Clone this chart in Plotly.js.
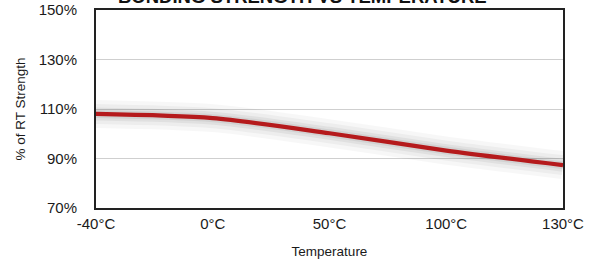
<!DOCTYPE html>
<html>
<head>
<meta charset="utf-8">
<script src="https://cdn.plot.ly/plotly-3.0.1.min.js"></script>
<style>html,body{margin:0;padding:0;background:#fff;}#chart{width:595px;height:262px;}</style>
</head>
<body>
<div id="chart"></div>
<script>
var temperatures = ['-40°C', '0°C', '50°C', '100°C', '130°C'];
var strengthPct = [108, 106.3, 100.2, 93.2, 87.3];
var yTickValues = [70, 90, 110, 130, 150];
var yTickLabels = ['70%', '90%', '110%', '130%', '150%'];
var chartTitle = 'BONDING STRENGTH VS TEMPERATURE';

var shadowStyles = [
  {w: 28, c: 'rgba(0,0,0,0.03)'},
  {w: 20, c: 'rgba(0,0,0,0.04)'},
  {w: 13, c: 'rgba(0,0,0,0.05)'},
  {w: 8, c: 'rgba(0,0,0,0.06)'}
];
var traces = shadowStyles.map(function (s) {
  return {
    x: temperatures, y: strengthPct, type: 'scatter', mode: 'lines',
    line: {color: s.c, width: s.w, shape: 'spline', smoothing: 0.8},
    hoverinfo: 'skip', showlegend: false
  };
});
traces.push({
  x: temperatures, y: strengthPct, type: 'scatter', mode: 'lines',
  line: {color: '#B51A1C', width: 4.2, shape: 'spline', smoothing: 0.8},
  showlegend: false
});

var font = 'Liberation Sans, Arial, Helvetica, sans-serif';
var layout = {
  width: 595, height: 262,
  margin: {l: 96, r: 32, t: 10, b: 54},
  paper_bgcolor: '#fff', plot_bgcolor: '#fff',
  font: {family: font, color: '#1a1a1a', size: 15},
  annotations: [{
    text: chartTitle, showarrow: false,
    xref: 'paper', yref: 'paper', x: 0.443, xanchor: 'center',
    y: 1.0687, yanchor: 'middle',
    font: {family: font, size: 18.5, color: '#111', weight: 'bold'}
  }],
  xaxis: {
    type: 'category', range: [0, 4],
    showgrid: false, zeroline: false,
    showline: true, linecolor: '#222', linewidth: 2, mirror: true,
    ticks: 'outside', ticklen: 1, tickcolor: 'rgba(0,0,0,0)',
    tickfont: {size: 15, family: font, color: '#1a1a1a'},
    title: {text: 'Temperature', font: {size: 13.5, family: font, color: '#1a1a1a'}, standoff: 16}
  },
  yaxis: {
    range: [70, 150],
    tickvals: yTickValues, ticktext: yTickLabels,
    showgrid: true, gridcolor: '#cfcfcf', gridwidth: 1,
    zeroline: false,
    showline: true, linecolor: '#222', linewidth: 2, mirror: true,
    ticks: 'outside', ticklen: 14, tickcolor: 'rgba(0,0,0,0)',
    tickfont: {size: 15, family: font, color: '#1a1a1a'},
    title: {text: '% of RT Strength', font: {size: 13.5, family: font, color: '#1a1a1a'}, standoff: 10}
  }
};

Plotly.newPlot('chart', traces, layout, {displayModeBar: false, staticPlot: true});
</script>
</body>
</html>
